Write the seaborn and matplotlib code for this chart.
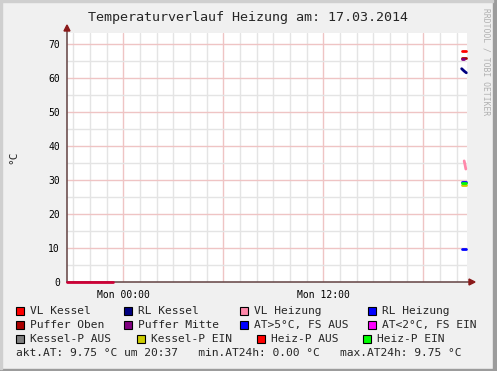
import numpy as np
import pandas as pd
import matplotlib
matplotlib.use("Agg")
import matplotlib.pyplot as plt
from matplotlib.patches import Rectangle, Polygon
import seaborn as sns

# ---------------- data (hours relative to Mon 00:00) ----------------
title = "Temperaturverlauf Heizung am: 17.03.2014"
x_min, x_max = -3.38, 20.62
y_min, y_max = 0, 73.2
x_tick_pos = [0, 12]
x_tick_labels = ["Mon 00:00", "Mon 12:00"]
y_ticks = [0, 10, 20, 30, 40, 50, 60, 70]

series_names = ["VL Kessel", "RL Kessel", "VL Heizung", "RL Heizung",
                "Puffer Oben", "Puffer Mitte", "AT>5°C, FS AUS", "AT<2°C, FS EIN",
                "Kessel-P AUS", "Kessel-P EIN", "Heiz-P AUS", "Heiz-P EIN"]
series_colors = ["#ff0000", "#000080", "#ff88aa", "#0000ff",
                 "#aa0000", "#800080", "#0000ff", "#ff00ff",
                 "#808080", "#cccc00", "#ff0000", "#00ff00"]

vl_kessel_t = [20.30, 20.55]
vl_kessel_v = [67.9, 67.9]
puffer_oben_t = [20.30, 20.55]
puffer_oben_v = [65.9, 65.9]
puffer_mitte_t = [20.30, 20.45]
puffer_mitte_v = [65.6, 65.6]
rl_kessel_t = [20.30, 20.45, 20.58]
rl_kessel_v = [62.7, 62.0, 61.5]
vl_heizung_t = [20.45, 20.50, 20.55]
vl_heizung_v = [35.6, 34.5, 33.2]
rl_heizung_t = [20.35, 20.55]
rl_heizung_v = [29.5, 29.5]
heiz_p_ein_t = [20.35, 20.55]
heiz_p_ein_v = [29.0, 29.0]
kessel_p_ein_t = [20.35, 20.55]
kessel_p_ein_v = [28.6, 28.6]
at_gt5_t = [20.30, 20.55]
at_gt5_v = [9.75, 9.75]
zero_line_t = [-3.38, -0.62]
zero_line_v = [0.0, 0.0]
zero_line_color = "#cc0036"

footer = "akt.AT: 9.75 °C um 20:37   min.AT24h: 0.00 °C   max.AT24h: 9.75 °C"

# ---------------- build frame ----------------
rows = []
def add(name, ts, vs):
    for t, v in zip(ts, vs):
        rows.append({"series": name, "t": t, "v": v})

add("VL Kessel", vl_kessel_t, vl_kessel_v)
add("Puffer Oben", puffer_oben_t, puffer_oben_v)
add("Puffer Mitte", puffer_mitte_t, puffer_mitte_v)
add("RL Kessel", rl_kessel_t, rl_kessel_v)
add("VL Heizung", vl_heizung_t, vl_heizung_v)
add("RL Heizung", rl_heizung_t, rl_heizung_v)
add("Kessel-P EIN", kessel_p_ein_t, kessel_p_ein_v)
add("Heiz-P EIN", heiz_p_ein_t, heiz_p_ein_v)
add("AT>5°C, FS AUS", at_gt5_t, at_gt5_v)
add("Zero", zero_line_t, zero_line_v)
df = pd.DataFrame(rows)

palette = dict(zip(series_names, series_colors))
palette["Zero"] = zero_line_color

# ---------------- figure ----------------
sns.set_style("white")
plt.rcParams["font.family"] = ["DejaVu Sans Mono", "DejaVu Sans"]
W, H = 497, 371
fig = plt.figure(figsize=(W / 100, H / 100), dpi=100, facecolor="#f0f0f0")

def fx(px):
    return px / W
def fy(py):
    return 1 - py / H

# frame shading
fig.patches.append(Rectangle((0, 0), 1, 2 / H, transform=fig.transFigure,
                             color="#9c9c9c", zorder=0))
fig.patches.append(Rectangle((fx(493), 0), fx(4), 1, transform=fig.transFigure,
                             color="#9c9c9c", zorder=0))
fig.patches.append(Rectangle((0, fy(1.5)), fx(493), 1.5 / H, transform=fig.transFigure,
                             color="#cfcfcf", zorder=0))
fig.patches.append(Rectangle((0, 2 / H), fx(1.5), 1, transform=fig.transFigure,
                             color="#cfcfcf", zorder=0))

ax = fig.add_axes([fx(67), fy(282), fx(467) - fx(67), fy(33) - fy(282)])
ax.set_facecolor("white")

# grid
for h in np.arange(-3, 21, 1):
    col = "#efc4c4" if h % 6 == 0 else "#e4e4e4"
    ax.axvline(h, color=col, lw=1, zorder=0)
for v in np.arange(5, 75, 5):
    col = "#efc4c4" if v % 10 == 0 else "#e4e4e4"
    ax.axhline(v, color=col, lw=1, zorder=0)

# axis lines
axis_col = "#6e5050"
ax.plot([0, 1.0075], [0, 0], transform=ax.transAxes, color=axis_col, lw=1.2,
        clip_on=False, zorder=4)
ax.plot([0, 0], [0, 1.012], transform=ax.transAxes, color=axis_col, lw=1.2,
        clip_on=False, zorder=4)

n_before = len(ax.get_lines())
sns.lineplot(data=df, x="t", y="v", hue="series", palette=palette,
             estimator=None, sort=False, legend=False, linewidth=2,
             ax=ax)
for ln in ax.get_lines()[n_before:]:
    ln.set_clip_on(False)
    ln.set_zorder(10)

ax.set_xlim(x_min, x_max)
ax.set_ylim(y_min, y_max)
ax.set_xlabel("")
ax.set_ylabel("")
for s in ax.spines.values():
    s.set_visible(False)
ax.set_xticks(x_tick_pos)
ax.set_xticklabels(x_tick_labels)
ax.set_yticks(y_ticks)
ax.set_yticklabels([str(v) for v in y_ticks])
ax.tick_params(axis="both", labelsize=7, length=3, color="#b08080", pad=2,
               labelcolor="black")
ax.tick_params(axis="x", pad=3)

# arrows
fig.patches.append(Polygon(
    [[fx(469), fy(279)], [fx(475), fy(282)], [fx(469), fy(285)]],
    closed=True, transform=fig.transFigure, color="#8b1a1a", zorder=5))
fig.patches.append(Polygon(
    [[fx(64), fy(31)], [fx(67), fy(25)], [fx(70), fy(31)]],
    closed=True, transform=fig.transFigure, color="#8b1a1a", zorder=5))

# title, labels
fig.text(fx(248), fy(17), title, ha="center", va="center", fontsize=9.6)
fig.text(fx(13), fy(157), "°C", rotation=90, ha="center", va="center", fontsize=8)
fig.text(fx(486), fy(8), "RRDTOOL / TOBI OETIKER", rotation=-90, ha="center",
         va="top", fontsize=5.8, color="#b0b0b0")

# legend
legend_layout = [
    ("VL Kessel", 16, 311), ("RL Kessel", 124, 311), ("VL Heizung", 240, 311), ("RL Heizung", 368, 311),
    ("Puffer Oben", 16, 325), ("Puffer Mitte", 124, 325), ("AT>5°C, FS AUS", 240, 325), ("AT<2°C, FS EIN", 368, 325),
    ("Kessel-P AUS", 16, 339), ("Kessel-P EIN", 137, 339), ("Heiz-P AUS", 257, 339), ("Heiz-P EIN", 363, 339),
]
for name, bx, by in legend_layout:
    fig.patches.append(Rectangle((fx(bx), fy(by + 4)), fx(8), 8 / H,
                                 transform=fig.transFigure, facecolor=palette[name],
                                 edgecolor="black", lw=0.8, zorder=5))
    fig.text(fx(bx + 14), fy(by), name, ha="left", va="center", fontsize=8.1)
fig.text(fx(16), fy(353), footer, ha="left", va="center", fontsize=8.1)

fig.savefig("out.png", dpi=100, facecolor=fig.get_facecolor())
